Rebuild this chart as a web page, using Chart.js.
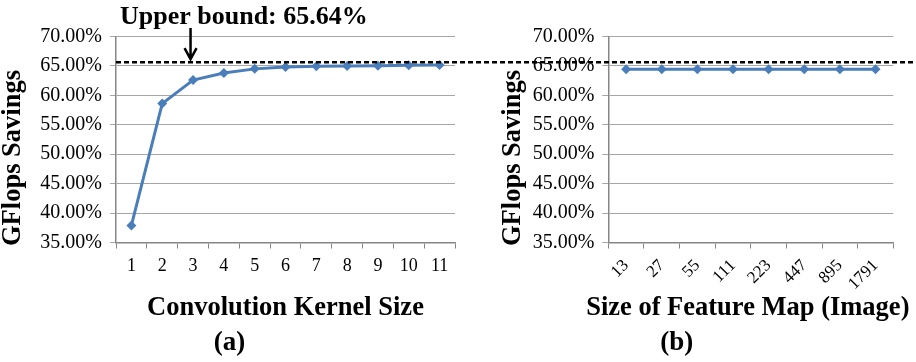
<!DOCTYPE html>
<html>
<head>
<meta charset="utf-8">
<script src="https://cdn.jsdelivr.net/npm/chart.js@4.4.1/dist/chart.umd.min.js"></script>
<style>
    body { margin: 0; background: #fff; }
    #wrap { position: relative; width: 916px; height: 362px; }
    canvas { position: absolute; top: 0; }
</style>
</head>
<body>
<div id="wrap">
    <canvas id="kernelChart" width="460" height="362" style="left:0"></canvas>
    <canvas id="mapChart" width="456" height="362" style="left:460px"></canvas>
</div>
<script>
// values (percent)
const kernelSizes = ['1', '2', '3', '4', '5', '6', '7', '8', '9', '10', '11'];
const kernelSavings = [37.9, 58.6, 62.6, 63.8, 64.5, 64.8, 64.95, 65.0, 65.05, 65.1, 65.15];

const mapSizes = ['13', '27', '55', '111', '223', '447', '895', '1791'];
const mapSavings = [64.45, 64.45, 64.45, 64.45, 64.45, 64.45, 64.45, 64.45];

const yMin = 35;
const yMax = 70;
const yStep = 5;
const upperBound = 65.64;
const upperBoundLabel = 'Upper bound: 65.64%';

const serif = "'Liberation Serif', 'Times New Roman', serif";
const blue = '#4a7ebb';

// dashed upper bound line, runs across both panels
const boundLine = {
    id: 'boundLine',
    afterDraw(chart, args, opts) {
        const {ctx, chartArea, scales} = chart;
        const py = scales.y.getPixelForValue(upperBound);
        ctx.save();
        ctx.strokeStyle = '#000';
        ctx.lineWidth = 2.5;
        ctx.setLineDash([5, 3]);
        ctx.beginPath();
        ctx.moveTo(opts.fromAxis ? chartArea.left : 0, py);
        ctx.lineTo(chart.width, py);
        ctx.stroke();
        ctx.restore();

        if (opts.label) {
            const ax = scales.x.getPixelForValue(2) - 2.5;
            ctx.save();
            ctx.fillStyle = '#000';
            ctx.font = 'bold 26px ' + serif;
            ctx.textBaseline = 'middle';
            ctx.fillText(opts.label, chartArea.left + 4, 17);
            ctx.strokeStyle = '#000';
            ctx.lineWidth = 2.5;
            ctx.beginPath();
            ctx.moveTo(ax, 28);
            ctx.lineTo(ax, py - 3);
            ctx.moveTo(ax - 6, py - 14);
            ctx.lineTo(ax, py - 3);
            ctx.lineTo(ax + 6, py - 14);
            ctx.stroke();
            ctx.restore();
        }
    }
};

// axis titles drawn by hand so they are not squeezed to the plot width
const axisTitles = {
    id: 'axisTitles',
    afterDraw(chart, args, opts) {
        const {ctx, chartArea} = chart;
        ctx.save();
        ctx.fillStyle = '#000';
        ctx.textAlign = 'center';
        ctx.textBaseline = 'middle';

        ctx.font = 'bold 26.5px ' + serif;
        ctx.fillText(opts.xText, (chartArea.left + chartArea.right) / 2 + opts.xShift, 308.5);

        ctx.translate(opts.yX, 158);
        ctx.rotate(-Math.PI / 2);
        ctx.fillText('GFlops Savings', 0, 0);
        ctx.restore();
    }
};

function makeChart(id, labels, values, cfg) {
    const ctx = document.getElementById(id).getContext('2d');
    return new Chart(ctx, {
        type: 'line',
        data: {
            labels: labels,
            datasets: [{
                data: values,
                borderColor: blue,
                backgroundColor: blue,
                borderWidth: 3,
                pointStyle: 'rectRot',
                pointRadius: 5,
                pointBorderWidth: 0,
                tension: 0
            }]
        },
        plugins: [boundLine, axisTitles],
        options: {
            responsive: false,
            animation: false,
            layout: {
                padding: {top: 36.5, right: cfg.padRight, bottom: 5.7, left: 0}
            },
            scales: {
                x: {
                    offset: true,
                    afterFit: s => { s.height = 86.8; },
                    grid: {
                        offset: true,
                        drawOnChartArea: false,
                        drawTicks: true,
                        tickLength: 6,
                        color: '#868686'
                    },
                    border: {color: '#868686', width: 1.5},
                    ticks: {
                        color: '#000',
                        font: {family: serif, size: cfg.xTickSize},
                        padding: cfg.xTickPad,
                        autoSkip: false,
                        minRotation: cfg.rotate,
                        maxRotation: cfg.rotate
                    }
                },
                y: {
                    min: yMin,
                    max: yMax,
                    afterFit: s => { s.width = cfg.yWidth; },
                    grid: {
                        color: '#a6a6a6',
                        tickLength: 6,
                        lineWidth: 1
                    },
                    border: {color: '#868686', width: 1.5},
                    ticks: {
                        stepSize: yStep,
                        color: '#000',
                        padding: 8,
                        font: {family: serif, size: 20},
                        callback: v => v.toFixed(2) + '%'
                    }
                }
            },
            plugins: {
                legend: {display: false},
                tooltip: {enabled: false},
                title: {
                    display: true,
                    position: 'bottom',
                    text: cfg.caption,
                    color: '#000',
                    font: {family: serif, size: 27, weight: 'bold', lineHeight: 1},
                    padding: 0
                },
                boundLine: {fromAxis: cfg.fromAxis, label: cfg.label},
                axisTitles: {xText: cfg.xTitle, xShift: cfg.xShift, yX: cfg.yTitleX}
            }
        }
    });
}

makeChart('kernelChart', kernelSizes, kernelSavings, {
    padRight: 1,
    yWidth: 116,
    rotate: 0,
    xTickSize: 18,
    xTickPad: 7,
    xTitle: 'Convolution Kernel Size',
    xShift: 0,
    caption: '(a)',
    fromAxis: true,
    label: upperBoundLabel,
    yTitleX: 13
});

makeChart('mapChart', mapSizes, mapSavings, {
    padRight: 22.7,
    yWidth: 148.3,
    rotate: 45,
    xTickSize: 17,
    xTickPad: 7,
    xTitle: 'Size of Feature Map (Image)',
    xShift: -3,
    caption: '(b)',
    fromAxis: false,
    label: null,
    yTitleX: 53.5
});
</script>
</body>
</html>
